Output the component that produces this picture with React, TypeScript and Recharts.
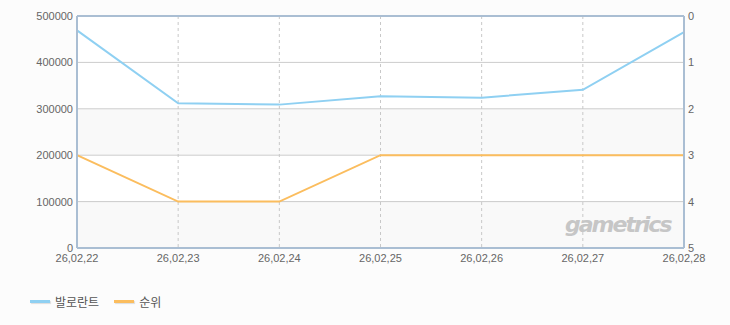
import React from "react";
import {
  LineChart,
  Line,
  XAxis,
  YAxis,
  CartesianGrid,
  ReferenceLine,
} from "recharts";

const categories = ["26,02,22", "26,02,23", "26,02,24", "26,02,25", "26,02,26", "26,02,27", "26,02,28"];
const valorantValues = [469000, 312000, 309000, 327000, 324000, 341000, 465000];
const rankValues = [3, 4, 4, 3, 3, 3, 3];
const leftTicks = [0, 100000, 200000, 300000, 400000, 500000];
const rightTicks = [0, 1, 2, 3, 4, 5];

const data = categories.map((c, i) => ({
  date: c,
  valorant: valorantValues[i],
  rank: rankValues[i],
}));

const BLUE = "#8fd0f2";
const ORANGE = "#fbbd5e";
const FRAME = "#aabed3";
const FONT = "'Liberation Sans', Arial, sans-serif";

export default function App() {
  return (
    <div style={{ position: "absolute", left: 0, top: 0, width: 730, height: 325, background: "#fcfcfc" }}>
      <LineChart width={730} height={325} data={data} margin={{ top: 16, right: 30, left: 0, bottom: 57 }}>
        <CartesianGrid
          yAxisId="left"
          horizontal={true}
          vertical={false}
          stroke="#cccccc"
          horizontalFill={["#ffffff", "#ffffff", "#f9f9f9", "#ffffff", "#f9f9f9"]}
          fillOpacity={1}
        />
        <CartesianGrid yAxisId="left" horizontal={false} vertical={true} stroke="#c8c8c8" strokeDasharray="3 3" />
        <XAxis
          dataKey="date"
          tickSize={0}
          tickMargin={6}
          height={20}
          axisLine={{ stroke: FRAME, strokeWidth: 2 }}
          tick={{ fill: "#666", fontSize: 11, fontFamily: FONT }}
          interval={0}
        />
        <YAxis
          yAxisId="left"
          domain={[0, 500000]}
          ticks={leftTicks}
          width={77}
          tickSize={0}
          tickMargin={4}
          axisLine={{ stroke: FRAME, strokeWidth: 2 }}
          tick={{ fill: "#666", fontSize: 11, fontFamily: FONT }}
        />
        <YAxis
          yAxisId="right"
          orientation="right"
          domain={[0, 5]}
          ticks={rightTicks}
          reversed
          width={16}
          tickSize={0}
          tickMargin={4}
          axisLine={{ stroke: FRAME, strokeWidth: 2 }}
          tick={{ fill: "#666", fontSize: 11, fontFamily: FONT }}
        />
        <ReferenceLine yAxisId="left" y={500000} stroke={FRAME} strokeWidth={2} />
        <Line yAxisId="left" dataKey="valorant" stroke={BLUE} strokeWidth={2} dot={false} isAnimationActive={false} />
        <Line yAxisId="right" dataKey="rank" stroke={ORANGE} strokeWidth={2} dot={false} isAnimationActive={false} />
      </LineChart>
      <div
        style={{
          position: "absolute",
          left: 565,
          top: 212,
          fontFamily: "'DejaVu Sans', sans-serif",
          fontStyle: "italic",
          fontWeight: "bold",
          fontSize: 22,
          color: "#c6c6c6",
          letterSpacing: -2,
          pointerEvents: "none",
        }}
      >
        gametrics
      </div>
      <div
        style={{
          position: "absolute",
          left: 30,
          top: 293,
          display: "flex",
          alignItems: "center",
          fontFamily: "'Noto Sans CJK KR', sans-serif",
          fontSize: 12,
          color: "#555",
        }}
      >
        <span style={{ display: "inline-block", width: 20, height: 3, background: BLUE, boxShadow: "1px 1px 1px #ddd", marginRight: 5 }} />
        <span style={{ marginRight: 15 }}>발로란트</span>
        <span style={{ display: "inline-block", width: 20, height: 3, background: ORANGE, boxShadow: "1px 1px 1px #ddd", marginRight: 5 }} />
        <span>순위</span>
      </div>
    </div>
  );
}
